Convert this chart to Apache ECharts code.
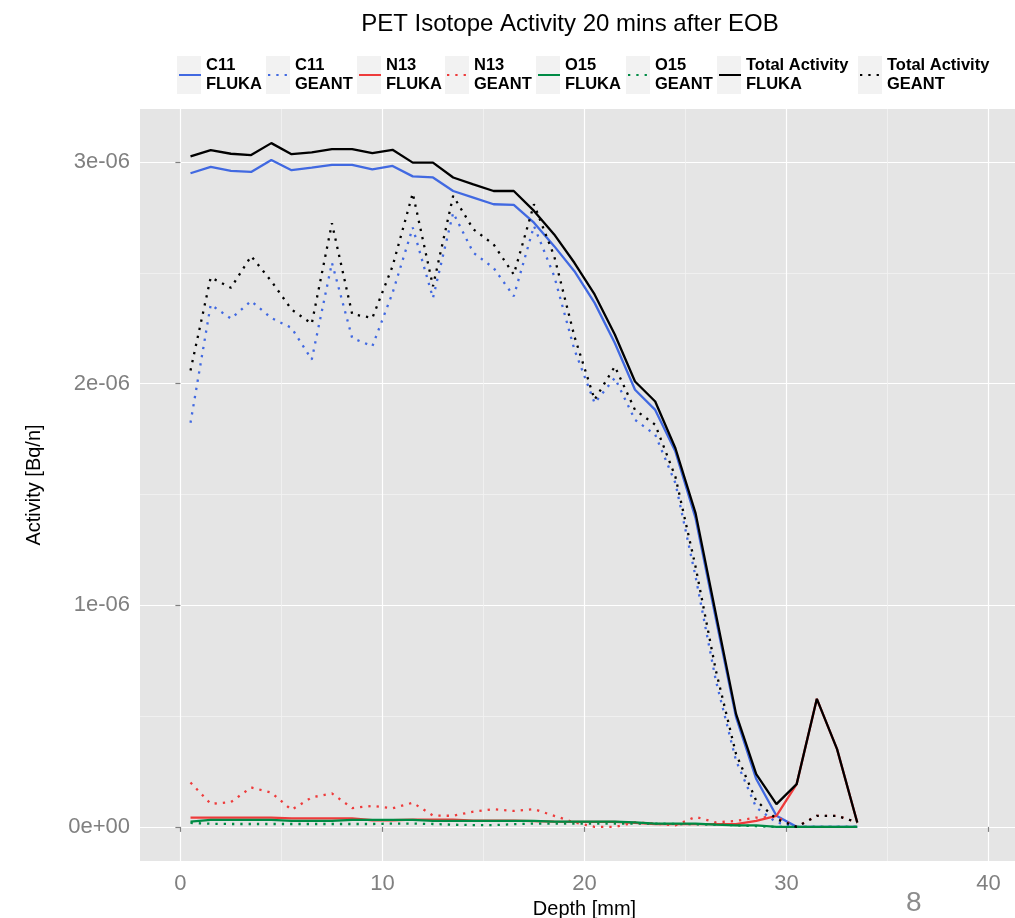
<!DOCTYPE html>
<html><head><meta charset="utf-8">
<script src="https://cdn.jsdelivr.net/npm/echarts@6/dist/echarts.min.js"></script>
<style>html,body{margin:0;padding:0;background:#fff}#c{width:1015px;height:918px}</style>
</head><body><div id="c"></div>
<script>
// Depth [mm]
const depth = [0.5,1.5,2.5,3.5,4.5,5.5,6.5,7.5,8.5,9.5,10.5,11.5,12.5,13.5,14.5,15.5,16.5,17.5,18.5,19.5,20.5,21.5,22.5,23.5,24.5,25.5,26.5,27.5,28.5,29.5,30.5,31.5,32.5,33.5];
// Activity values in units of 1e-6 Bq/n
const c11Fluka = [2.950,2.979,2.961,2.956,3.010,2.964,2.975,2.988,2.988,2.968, 2.983,2.936,2.931,2.870,2.840,2.810,2.807,2.727,2.621,2.508, 2.365,2.184,1.973,1.882,1.694,1.392,0.940,0.495,0.216,0.050, 0.000,0.000,0.000,0.000];
const c11Geant = [1.824,2.357,2.294,2.373,2.297,2.252,2.109,2.546,2.207,2.169, 2.410,2.705,2.387,2.772,2.591,2.523,2.395,2.712,2.486,2.154, 1.913,2.026,1.837,1.770,1.551,1.128,0.661,0.299,0.087,0.020, 0.000,0.000,0.000,0.000];
const n13Fluka = [0.042,0.042,0.042,0.042,0.042,0.038,0.038,0.038,0.038,0.030, 0.030,0.033,0.033,0.033,0.028,0.028,0.028,0.026,0.024,0.023, 0.023,0.023,0.018,0.012,0.012,0.012,0.012,0.012,0.027,0.050, 0.193,0.578,0.351,0.020];
const n13Geant = [0.200,0.104,0.112,0.178,0.155,0.077,0.133,0.151,0.085,0.095, 0.084,0.109,0.051,0.050,0.069,0.080,0.072,0.080,0.050,0.020, 0.000,0.000,0.020,0.015,0.007,0.045,0.020,0.027,0.042,0.045, 0.000,0.050,0.050,0.020];
const o15Fluka = [0.024,0.032,0.032,0.032,0.032,0.027,0.027,0.027,0.032,0.032, 0.032,0.032,0.027,0.027,0.027,0.027,0.027,0.027,0.024,0.024, 0.024,0.024,0.020,0.015,0.015,0.015,0.010,0.007,0.007,0.000, 0.000,0.000,0.000,0.000];
const o15Geant = [0.018,0.014,0.013,0.013,0.013,0.013,0.013,0.013,0.013,0.013, 0.015,0.015,0.013,0.010,0.008,0.008,0.012,0.015,0.015,0.015, 0.015,0.015,0.015,0.015,0.013,0.012,0.010,0.007,0.003,0.000, 0.000,0.000,0.000,0.000];
const totalFluka = [3.026,3.054,3.038,3.032,3.086,3.036,3.044,3.059,3.059,3.041, 3.056,2.998,2.998,2.931,2.900,2.870,2.870,2.780,2.674,2.546, 2.403,2.222,2.010,1.920,1.709,1.415,0.962,0.510,0.238,0.103, 0.193,0.578,0.351,0.020];
const totalGeant = [2.060,2.480,2.433,2.576,2.463,2.335,2.271,2.724,2.315,2.297, 2.530,2.860,2.440,2.848,2.697,2.629,2.493,2.810,2.576,2.214, 1.928,2.078,1.882,1.815,1.580,1.173,0.706,0.329,0.118,0.035, 0.000,0.050,0.050,0.020];

const xMajor = [0,10,20,30,40];
const xMinor = [5,15,25,35];
const yMajor = [0,1,2,3];
const yMinor = [0.5,1.5,2.5];
const yLabels = ['0e+00','1e-06','2e-06','3e-06'];

const seriesDefs = [
  {name:'C11\nFLUKA', data:c11Fluka, color:'#4169E1', dotted:false},
  {name:'C11\nGEANT', data:c11Geant, color:'#4169E1', dotted:true},
  {name:'N13\nFLUKA', data:n13Fluka, color:'#EE3B3B', dotted:false},
  {name:'N13\nGEANT', data:n13Geant, color:'#EE3B3B', dotted:true},
  {name:'O15\nFLUKA', data:o15Fluka, color:'#008B45', dotted:false},
  {name:'O15\nGEANT', data:o15Geant, color:'#008B45', dotted:true},
  {name:'Total Activity\nFLUKA', data:totalFluka, color:'#000000', dotted:false},
  {name:'Total Activity\nGEANT', data:totalGeant, color:'#000000', dotted:true}
];
const legendX = [178, 267, 358, 446, 537, 627, 718, 859];

const chart = echarts.init(document.getElementById('c'), null, {renderer:'canvas'});
const gray = '#808080';
const font = 'Liberation Sans, Arial, sans-serif';

const series = seriesDefs.map(s => ({
  name: s.name,
  type: 'line',
  xAxisIndex: 0, yAxisIndex: 0,
  data: depth.map((d,i) => [d, s.data[i]]),
  symbol: 'none',
  color: s.color,
  lineStyle: {color: s.color, width: 2.3, type: s.dotted ? [2.3,6] : 'solid', cap: 'butt'},
  emphasis: {disabled: true},
  animation: false
}));

const legends = seriesDefs.map((s,i) => ({
  data: [s.name],
  left: legendX[i],
  top: 56,
  padding: 0,
  orient: 'horizontal',
  itemWidth: 22,
  itemHeight: 14,
  itemGap: 0,
  selectedMode: false,
  itemStyle: {opacity: 0},
  textStyle: {fontFamily:font, fontSize:16.5, fontWeight:'bold', color:'#000', lineHeight:19}
}));

const keyRects = legendX.map(x => ({
  type:'rect', left: x-1, top: 56, z: -1,
  shape:{width:24, height:38},
  style:{fill:'#F2F2F2'}
}));

chart.setOption({
  animation: false,
  backgroundColor: '#ffffff',
  title: {
    text: 'PET Isotope Activity 20 mins after EOB',
    left: 565, top: 7, textAlign: 'center',
    textStyle: {fontFamily:font, fontSize:24, fontWeight:'normal', color:'#000'}
  },
  legend: legends,
  grid: {left:140, right:-14, top:109, bottom:57, show:true, backgroundColor:'#E5E5E5', borderWidth:0,
         containLabel:false, outerBoundsMode:'none'},
  xAxis: [
    {type:'value', min:-2, max:42,
     name:'Depth [mm]', nameLocation:'middle', nameGap:37,
     nameTextStyle:{fontFamily:font, fontSize:20, color:'#000'},
     axisLine:{show:false},
     axisTick:{show:true, length:5, lineStyle:{color:gray, width:1.2}, customValues:xMajor},
     axisLabel:{fontFamily:font, fontSize:22, color:gray, margin:12, customValues:xMajor},
     splitLine:{show:true, lineStyle:{color:'#FFFFFF', width:1.2}}
    },
    {type:'value', min:-2, max:42, position:'bottom',
     axisLine:{show:false},
     axisTick:{show:false, customValues:xMinor},
     axisLabel:{show:false, customValues:xMinor},
     splitLine:{show:true, lineStyle:{color:'#F2F2F2', width:0.8}}
    }
  ],
  yAxis: [
    {type:'value', min:-0.154, max:3.24,
     name:'Activity [Bq/n]', nameLocation:'middle', nameGap:96, nameRotate:90,
     nameTextStyle:{fontFamily:font, fontSize:20, color:'#000'},
     axisLine:{show:false},
     axisTick:{show:true, length:5, lineStyle:{color:gray, width:1.2}, customValues:yMajor},
     axisLabel:{fontFamily:font, fontSize:22, color:gray, margin:10, customValues:yMajor,
       formatter: v => yLabels[yMajor.indexOf(Math.round(v))]},
     splitLine:{show:true, lineStyle:{color:'#FFFFFF', width:1.2}}
    },
    {type:'value', min:-0.154, max:3.24, position:'left',
     axisLine:{show:false},
     axisTick:{show:false, customValues:yMinor},
     axisLabel:{show:false, customValues:yMinor},
     splitLine:{show:true, lineStyle:{color:'#F2F2F2', width:0.8}}
    }
  ],
  graphic: keyRects.concat([
    {type:'text', left:906, top:889, style:{text:'8', fontFamily:font, fontSize:28, fill:'#8C8C8C'}}
  ]),
  series: series
});
</script>
</body></html>
